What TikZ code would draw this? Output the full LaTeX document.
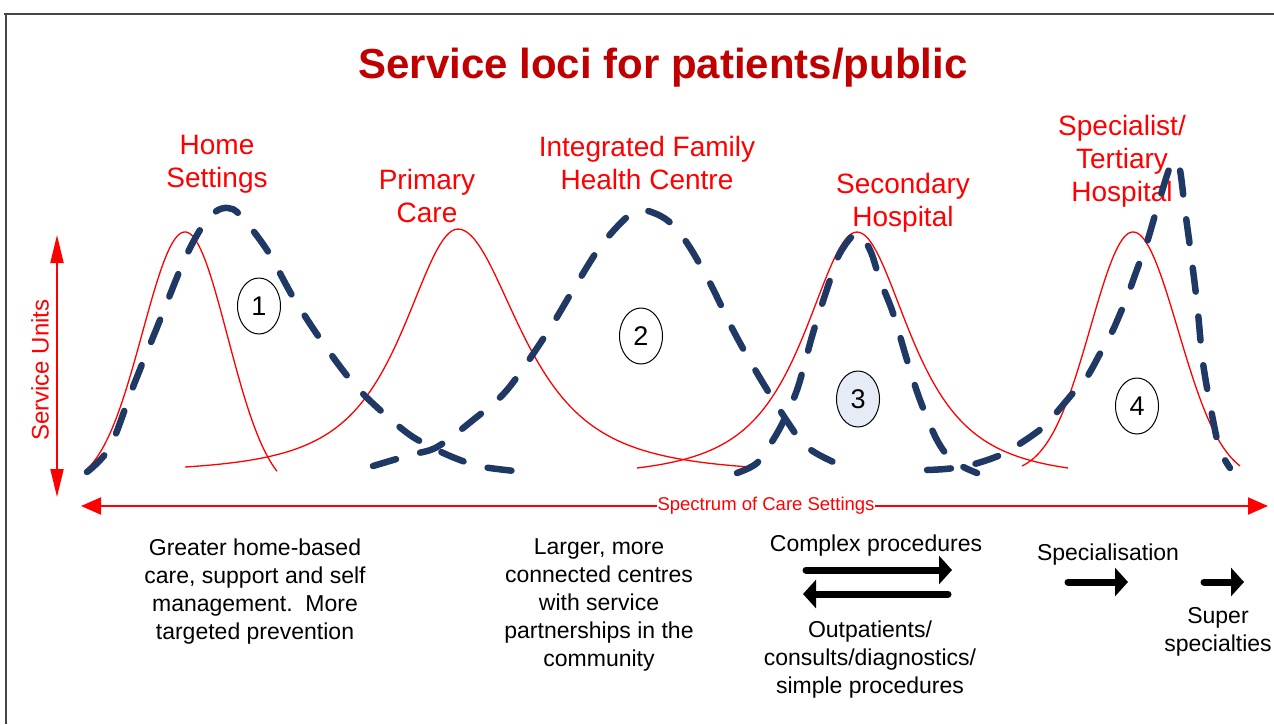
\documentclass[tikz,border=0pt]{standalone}
\usepackage{fontspec}
\setmainfont{Liberation Sans}
\usetikzlibrary{arrows.meta,shapes.geometric}
\definecolor{navy}{RGB}{31,56,100}
\definecolor{titlered}{RGB}{192,0,0}
\definecolor{bubblefill}{RGB}{230,236,247}
\definecolor{framegray}{RGB}{70,70,70}
\tikzset{
 redcurve/.style={red, line width=1.3pt, line join=round},
 dashcurve/.style={navy, line width=6.5pt, line cap=round, line join=round, dash pattern=on 24pt off 25pt},
 redlabel/.style={text=red, font=\fontsize{28}{33}\selectfont, align=center, inner sep=0pt},
 bodytext/.style={text=black, font=\fontsize{23}{28}\selectfont, align=center, inner sep=0pt},
 numbubble/.style={ellipse, draw=black, line width=1pt, minimum width=43pt, minimum height=56pt, inner sep=0pt, font=\fontsize{27}{32}\selectfont},
 bigarrow/.style={line width=7pt, line cap=round, -{Triangle[length=13pt,width=28pt]}},
 axisarrow/.style={red, line width=2pt},
}
\begin{document}
\begin{tikzpicture}[x=1pt,y=-1pt]
\useasboundingbox (0,0) rectangle (1274,724);
% frame
\draw[framegray, line width=2pt] (4,14) -- (1274,14);
\draw[framegray, line width=1.5pt] (6,14) -- (6,724);

% title
\node[text=titlered, font=\bfseries\fontsize{42}{50}\selectfont, inner sep=0pt] (title) at (663,68) {Service loci for patients/public};

% red labels
\node[redlabel] (home) at (217,164) {Home\\Settings};
\node[redlabel] (primary) at (427,196) {Primary\\Care};
\node[redlabel] (ifhc) at (647,163) {Integrated Family\\Health Centre};
\node[redlabel] (secondary) at (903,203) {Secondary\\Hospital};
\node[redlabel] (tertiary) at (1122,161) {Specialist/\\Tertiary\\Hospital};

% red curves
\draw[redcurve] plot[domain=85:185, samples=60] (\x,{471-239*(exp(-0.5*((\x-185)/42.5)*((\x-185)/42.5))-0.063)/0.937})
  -- plot[domain=185:277, samples=60] (\x,{471-239*(exp(-0.5*((\x-185)/42.5)*((\x-185)/42.5))-0.097)/0.903});
\draw[redcurve] plot[domain=185:458, samples=90] (\x,{467-238*(1/((1+((\x-458)/85)*((\x-458)/85))*sqrt(1+((\x-458)/85)*((\x-458)/85)))-0.0263)/0.9737})
  -- plot[domain=458:750, samples=90] (\x,{467-238*(1/((1+((\x-458)/96.6)*((\x-458)/96.6))*sqrt(1+((\x-458)/96.6)*((\x-458)/96.6)))-0.031)/0.969});
\draw[redcurve] plot[domain=637:857, samples=80] (\x,{468-236*(1/((1+((\x-857)/81)*((\x-857)/81))*sqrt(1+((\x-857)/81)*((\x-857)/81)))-0.0412)/0.9588})
  -- plot[domain=857:1068, samples=80] (\x,{468-236*(1/((1+((\x-857)/82)*((\x-857)/82))*sqrt(1+((\x-857)/82)*((\x-857)/82)))-0.0475)/0.9525});
\draw[redcurve] plot[domain=1022:1133, samples=60] (\x,{466-234*(exp(-0.5*((\x-1133)/42.5)*((\x-1133)/42.5))-0.033)/0.967})
  -- plot[domain=1133:1240, samples=60] (\x,{466-234*(exp(-0.5*((\x-1133)/45)*((\x-1133)/45))-0.059)/0.941});

% dashed curves
\draw[dashcurve] plot[smooth, tension=0.55] coordinates {(87,472) (110,447) (133,387) (160,320) (183,263) (200,230) (215,212) (228,208) (240,215) (267,250) (293,297) (323,343) (353,383) (380,410) (410,435) (437,450) (460,460) (483,467) (533,473)};
\draw[dashcurve] plot[smooth, tension=0.55] coordinates {(373,466) (410,455) (437,447) (473,420) (507,390) (547,333) (573,290) (600,247) (627,217) (643,210) (667,220) (687,243) (710,283) (733,330) (757,373) (785,418) (807,447) (840,465) (852,467)};
\draw[dashcurve] plot[smooth, tension=0.55] coordinates {(737,473) (757,463) (773,440) (785,418) (798,387) (813,333) (830,280) (840,253) (857,233) (870,250) (880,280) (893,313) (907,360) (920,400) (937,440) (953,461) (977,473)};
\draw[dashcurve] plot[smooth, tension=0.55] coordinates {(927,470) (945,469) (967,466) (993,458) (1010,450) (1037,432) (1050,420) (1073,393) (1087,377) (1103,348) (1113,330) (1127,297) (1135,275) (1147,242) (1153,222) (1163,188) (1170,167) (1175,160) (1180,170) (1185,210) (1190,247) (1197,303) (1203,363) (1213,420) (1220,450) (1230,468)};

% numbered bubbles
\node[numbubble, fill=white] (n1) at (259,306) {1};
\node[numbubble, fill=white] (n2) at (641,336) {2};
\node[numbubble, fill=bubblefill] (n3) at (858,399) {3};
\node[numbubble, fill=white] (n4) at (1137,406) {4};

% axes
\coordinate (vtop) at (57,235);
\coordinate (vbot) at (57,497);
\draw[axisarrow, {Triangle[length=28pt,width=13pt]}-{Triangle[length=28pt,width=13pt]}] (vbot) -- (vtop);
\node[text=red, font=\fontsize{24}{28}\selectfont, rotate=90, inner sep=0pt] (units) at (40,370) {Service Units};
\coordinate (hleft) at (81,506);
\coordinate (hright) at (1268,506);
\draw[axisarrow, {Triangle[length=20pt,width=17pt]}-{Triangle[length=20pt,width=17pt]}] (hleft) -- (hright);
\node[text=red, fill=white, font=\fontsize{18.5}{22}\selectfont, inner sep=1pt] (spectrum) at (766,506) {Spectrum of Care Settings};

% bottom texts
\node[bodytext] (greater) at (255,592) {Greater home-based\\care, support and self\\management.\ \ More\\targeted prevention};
\node[bodytext] (larger) at (599,605) {Larger, more\\connected centres\\with service\\partnerships in the\\community};
\node[bodytext] (complex) at (876,546) {Complex procedures};
\node[bodytext] (outp) at (870,660) {Outpatients/\\consults/diagnostics/\\simple procedures};
\node[bodytext] (spec) at (1108,555) {Specialisation};
\node[bodytext] (super) at (1218,632) {Super\\specialties};

% black arrows
\coordinate (c1) at (806,570);
\coordinate (c2) at (952,570);
\coordinate (o1) at (948,594);
\coordinate (o2) at (803,594);
\coordinate (s1) at (1068,582);
\coordinate (s2) at (1128,582);
\coordinate (u1) at (1204,582);
\coordinate (u2) at (1244,582);
\draw[bigarrow] (c1) -- (c2);
\draw[bigarrow] (o1) -- (o2);
\draw[bigarrow] (s1) -- (s2);
\draw[bigarrow] (u1) -- (u2);
\end{tikzpicture}
\end{document}
